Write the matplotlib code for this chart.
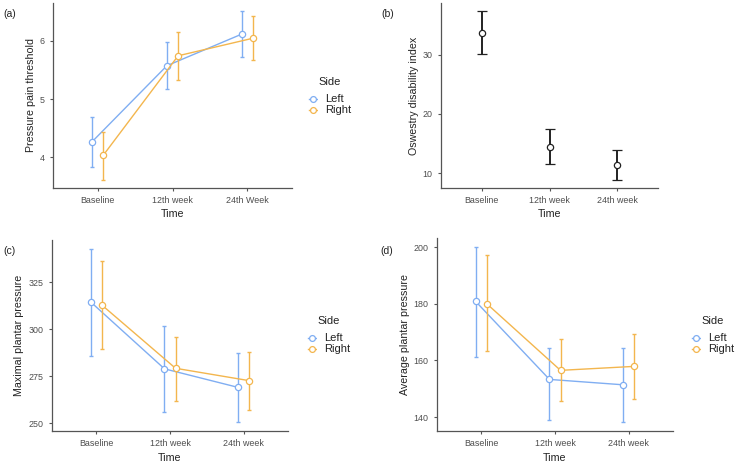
import numpy as np
import matplotlib.pyplot as plt

plt.rcParams['font.family'] = ['Liberation Sans', 'DejaVu Sans']

# Datos
time_a = ['Baseline', '12th week', '24th Week']
time_b = ['Baseline', '12th week', '24th week']

# (a) umbral de dolor a la presion
ppt_left = [4.27, 5.57, 6.11]
ppt_left_lo = [3.83, 5.17, 5.72]
ppt_left_hi = [4.69, 5.97, 6.50]
ppt_right = [4.04, 5.74, 6.04]
ppt_right_lo = [3.62, 5.32, 5.67]
ppt_right_hi = [4.44, 6.15, 6.42]

# (b) indice de discapacidad de Oswestry
odi = [33.7, 14.45, 11.4]
odi_lo = [30.1, 11.45, 8.9]
odi_hi = [37.3, 17.4, 13.9]

# (c) presion plantar maxima
mpp_left = [314.6, 279.0, 269.1]
mpp_left_lo = [285.6, 256.0, 250.5]
mpp_left_hi = [343.0, 302.0, 287.6]
mpp_right = [313.0, 279.3, 272.7]
mpp_right_lo = [289.7, 262.0, 256.9]
mpp_right_hi = [336.5, 295.8, 288.2]

# (d) presion plantar media
app_left = [180.8, 153.3, 151.4]
app_left_lo = [161.3, 138.9, 138.2]
app_left_hi = [200.1, 164.5, 164.5]
app_right = [180.0, 156.5, 157.9]
app_right_lo = [163.2, 145.8, 146.3]
app_right_hi = [197.3, 167.4, 169.3]

blue = '#80aef2'
orange = '#f3b64e'
W, H = 737, 465


def make_axes(fig, left, right, top, bottom):
    return fig.add_axes([left / W, 1 - bottom / H, (right - left) / W, (bottom - top) / H])


def style(ax, ylabel, yticks):
    for s in ['top', 'right']:
        ax.spines[s].set_visible(False)
    for s in ['left', 'bottom']:
        ax.spines[s].set_color('#555555')
        ax.spines[s].set_linewidth(0.9)
    ax.set_xlim(0.4, 3.6)
    ax.set_yticks(yticks)
    ax.tick_params(labelsize=6.4, colors='#555555', labelcolor='#4d4d4d', length=2.5, width=0.8)
    ax.set_xlabel('Time', fontsize=7.7, color='#222222', labelpad=3)
    ax.set_ylabel(ylabel, fontsize=7.7, color='#222222', labelpad=3)


def draw_sides(ax, left, llo, lhi, right, rlo, rhi):
    x = np.arange(1, 4)
    for xs, m, lo, hi, c in [(x - 0.075, left, llo, lhi, blue), (x + 0.075, right, rlo, rhi, orange)]:
        m = np.array(m)
        err = [m - np.array(lo), np.array(hi) - m]
        ax.errorbar(xs, m, yerr=err, fmt='none', ecolor=c, elinewidth=1.0, capsize=1.5, capthick=1.0)
        ax.plot(xs, m, color=c, lw=1.0, marker='o', ms=4.5, mfc='white', mec=c, mew=0.9)


def legend(fig, x, y):
    fig.text(x / W, 1 - y / H, 'Side', fontsize=8, color='#222222', va='center')
    for i, (lab, c) in enumerate([('Left', blue), ('Right', orange)]):
        yy = y + 17 + 11.3 * i
        ax_l = fig.add_axes([(x - 10) / W, 1 - (yy + 5) / H, 10 / W, 10 / H])
        ax_l.axis('off')
        ax_l.set_xlim(0, 1)
        ax_l.set_ylim(0, 1)
        ax_l.plot([0.05, 0.95], [0.5, 0.5], color=c, lw=1.0)
        ax_l.plot([0.5], [0.5], marker='o', ms=4.2, mfc='white', mec=c, mew=0.9)
        fig.text((x + 7) / W, 1 - yy / H, lab, fontsize=8, color='#222222', va='center')


fig = plt.figure(figsize=(W / 100, H / 100), dpi=100)

# (a)
ax1 = make_axes(fig, 53, 292, 3, 188)
draw_sides(ax1, ppt_left, ppt_left_lo, ppt_left_hi, ppt_right, ppt_right_lo, ppt_right_hi)
style(ax1, 'Pressure pain threshold', [4, 5, 6])
ax1.set_ylim(3.476, 6.644)
ax1.set_xticks([1, 2, 3], time_a)
legend(fig, 318, 82)

# (b)
ax2 = make_axes(fig, 441, 658, 3, 188)
m = np.array(odi)
ax2.errorbar(np.arange(1, 4), m, yerr=[m - np.array(odi_lo), np.array(odi_hi) - m], fmt='o',
             color='#222222', ecolor='#222222', elinewidth=1.4, capsize=3.5, capthick=1.4,
             ms=4.5, mfc='white', mec='#222222', mew=0.9)
style(ax2, 'Oswestry disability index', [10, 20, 30])
ax2.set_ylim(7.48, 38.72)
ax2.set_xticks([1, 2, 3], time_b)

# (c)
ax3 = make_axes(fig, 52, 288, 240, 431)
draw_sides(ax3, mpp_left, mpp_left_lo, mpp_left_hi, mpp_right, mpp_right_lo, mpp_right_hi)
style(ax3, 'Maximal plantar pressure', [250, 275, 300, 325])
ax3.set_ylim(245.9, 347.6)
ax3.set_xticks([1, 2, 3], time_b)
legend(fig, 317, 321)

# (d)
ax4 = make_axes(fig, 437, 673, 238, 431)
draw_sides(ax4, app_left, app_left_lo, app_left_hi, app_right, app_right_lo, app_right_hi)
style(ax4, 'Average plantar pressure', [140, 160, 180, 200])
ax4.set_ylim(135.1, 203.2)
ax4.set_xticks([1, 2, 3], time_b)
legend(fig, 701, 321)

# Etiquetas de panel
for lab, x, y in [('(a)', 3, 14), ('(b)', 381, 14), ('(c)', 3, 251), ('(d)', 380, 251)]:
    fig.text(x / W, 1 - y / H, lab, fontsize=7.5, color='#222222', va='center')

plt.savefig('out.png', dpi=100)
